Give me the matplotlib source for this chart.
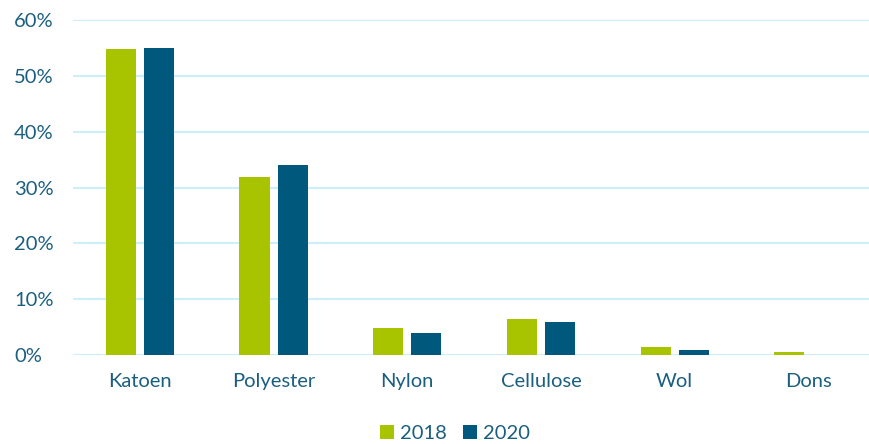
import numpy as np
import matplotlib.pyplot as plt

# materials and share per year
categories = ['Katoen', 'Polyester', 'Nylon', 'Cellulose', 'Wol', 'Dons']
share_2018 = [54.8, 31.9, 4.8, 6.5, 1.5, 0.5]
share_2020 = [55.0, 34.0, 4.0, 5.9, 1.0, 0.0]
yticks = [0, 10, 20, 30, 40, 50, 60]

green = '#a8c300'
blue = '#00587c'
txt = '#1b5f80'

plt.rcParams['font.family'] = ['Lato', 'DejaVu Sans']
fs = 14.5

fig = plt.figure(figsize=(8.7, 4.44), dpi=100)
ax = fig.add_axes([0.084, 0.2, 0.922, 0.755])

x = np.arange(len(categories))
w = 0.225
ax.bar(x - 0.143, share_2018, w, color=green, label='2018', zorder=3)
ax.bar(x + 0.143, share_2020, w, color=blue, label='2020', zorder=3)

ax.set_xlim(-0.5, len(categories) - 0.5)
ax.set_ylim(0, 60)
ax.set_yticks(yticks)
ax.set_yticklabels([f'{t}%' for t in yticks])
ax.set_xticks(x)
ax.set_xticklabels(categories)
ax.tick_params(axis='both', length=0, labelsize=fs, colors=txt)
ax.tick_params(axis='y', pad=42.5)
ax.tick_params(axis='x', pad=13)
for lbl in ax.get_yticklabels():
    lbl.set_horizontalalignment('left')
ax.yaxis.grid(True, color='#cdeefb', linewidth=1.5, zorder=0)
for s in ax.spines.values():
    s.set_visible(False)

ax.legend(loc='lower center', bbox_to_anchor=(0.476, -0.30), ncol=2, frameon=False,
          fontsize=fs, labelcolor=txt, handlelength=0.7, handleheight=0.7,
          handletextpad=0.3, columnspacing=0.8, borderpad=0.2)

fig.savefig('out.png')
